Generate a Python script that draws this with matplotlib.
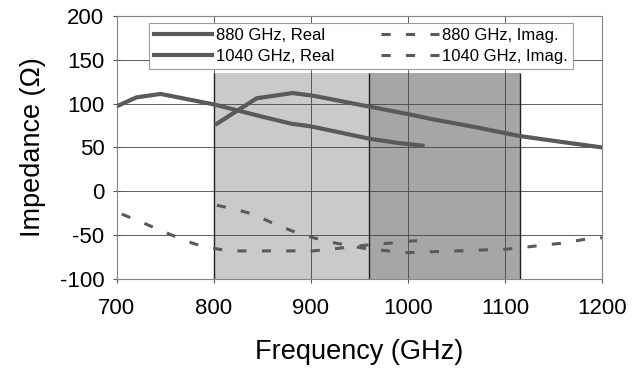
import matplotlib
import matplotlib.pyplot as plt

matplotlib.use('Agg')

plt.rcParams['font.family'] = ['Liberation Sans', 'DejaVu Sans']
plt.rcParams['axes.unicode_minus'] = False

# Values.
freq_880_real = [700, 720, 745, 800, 825, 850, 880, 900, 930, 960, 990, 1015]
z_880_real = [97, 107, 111, 99, 92, 85, 77, 74, 67, 60, 55, 52]

freq_1040_real = [803, 844, 881, 902, 930, 958, 1000, 1026, 1070, 1115, 1160, 1200]
z_1040_real = [77, 106, 112, 109, 103, 97, 88, 82, 73, 63, 56, 50]

freq_880_imag = [705, 729, 746, 763, 780, 799, 816, 850, 880, 902, 920, 937, 968, 985, 1000, 1015]
z_880_imag = [-26, -37, -45, -53, -60, -65, -68, -68, -68, -68, -66, -64, -60, -59, -57, -56]

freq_1040_imag = [803, 820, 840, 860, 880, 899, 920, 940, 959, 980, 1000, 1050, 1102, 1119, 1143, 1161, 1181, 1200]
z_1040_imag = [-16, -20, -26, -36, -45, -52, -58, -62, -66, -68, -70, -68, -66, -64, -61, -59, -55, -53]

band_low = (800, 960)
band_high = (960, 1116)
band_top = 135

fig = plt.figure(figsize=(6.32, 3.69), dpi=100)
ax = fig.add_axes([0.185, 0.244, 0.7675, 0.713])

# Shaded frequency bands (they stop below the legend)
ax.fill_between(band_low, -100, band_top, facecolor='#cacaca', lw=0, zorder=0.5)
ax.fill_between(band_high, -100, band_top, facecolor='#a6a6a6', lw=0, zorder=0.5)
ax.vlines([band_low[0], band_low[1], band_high[1]], -100, band_top, color='#222222', lw=1.0, zorder=1.5)

line_color = '#5a5a5a'
dash = (0, (3, 5))
ax.plot(freq_880_real, z_880_real, color=line_color, lw=3, label='880 GHz, Real', zorder=3)
ax.plot(freq_1040_real, z_1040_real, color=line_color, lw=3, label='1040 GHz, Real', zorder=3)
ax.plot(freq_880_imag, z_880_imag, color=line_color, lw=2.2, ls=dash, label='880 GHz, Imag.', zorder=3)
ax.plot(freq_1040_imag, z_1040_imag, color=line_color, lw=2.2, ls=dash, label='1040 GHz, Imag.', zorder=3)

ax.set_xlim(700, 1200)
ax.set_ylim(-100, 200)
ax.set_xticks(range(700, 1201, 100))
ax.set_yticks(range(-100, 201, 50))
ax.grid(True, color='#444444', lw=0.6, zorder=1)
ax.set_axisbelow(True)
for s in ax.spines.values():
    s.set_color('#888888')
    s.set_linewidth(0.8)
ax.tick_params(labelsize=16, direction='inout', length=6, color='#555555', pad=6)
ax.tick_params(axis='x', pad=11)

ax.set_xlabel('Frequency (GHz)', fontsize=19.5, labelpad=14)
ax.set_ylabel('Impedance (\u03a9)', fontsize=19.5, labelpad=10)

leg = ax.legend(ncol=2, loc='upper center', bbox_to_anchor=(0.503, 1.005), fontsize=12,
                frameon=True, fancybox=False, handlelength=3.5, handletextpad=0.2,
                columnspacing=2.8, borderpad=0.3, labelspacing=0.35)
leg.get_frame().set_edgecolor('#999999')
leg.get_frame().set_linewidth(0.8)
leg.get_frame().set_facecolor('white')
leg.get_frame().set_alpha(1)

fig.savefig('out.png', dpi=100)
